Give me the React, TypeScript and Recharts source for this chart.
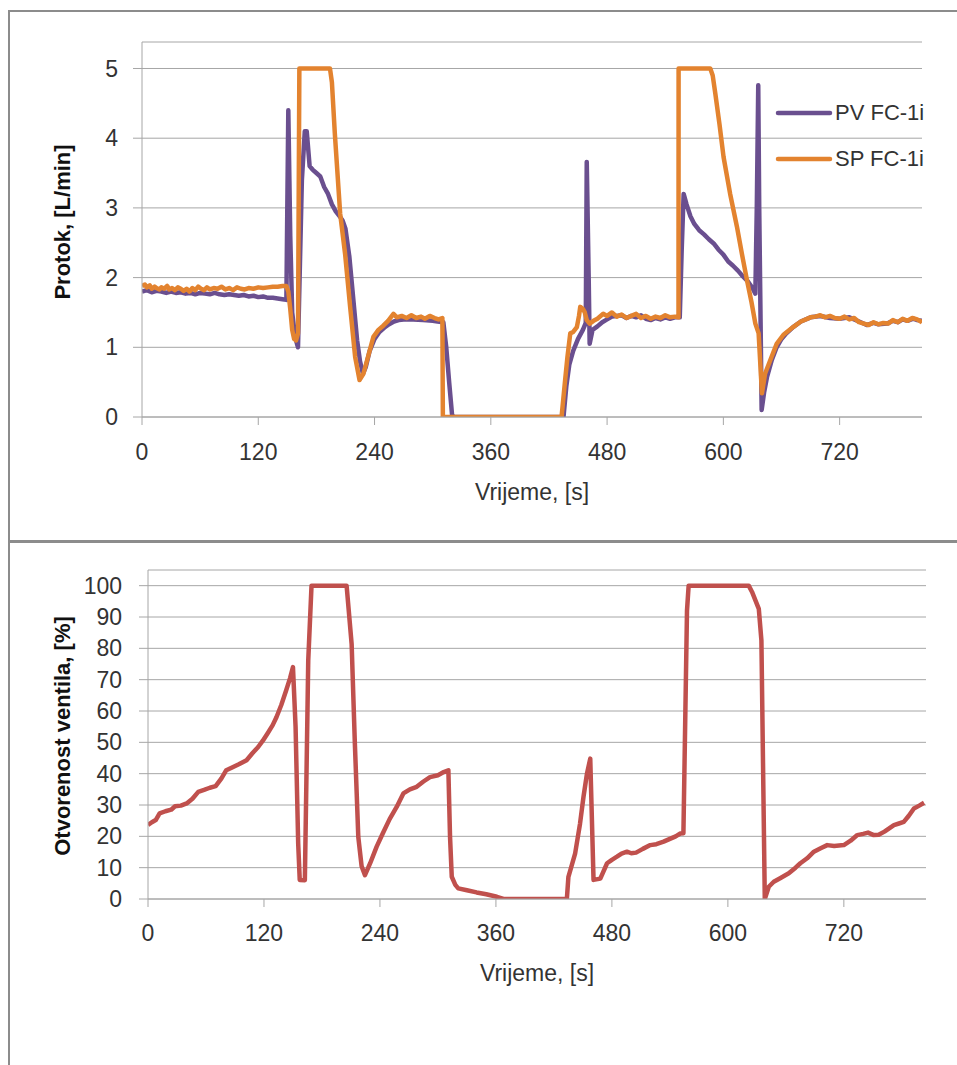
import React from 'react'
import { LineChart, Line, XAxis, YAxis, CartesianGrid, Legend, Label } from 'recharts'

// time axis ticks, seconds
const timeTicks = [0, 120, 240, 360, 480, 600, 720]
const flowTicks = [0, 1, 2, 3, 4, 5]
const valveTicks = [0, 10, 20, 30, 40, 50, 60, 70, 80, 90, 100]

// PV FC-1i (measured flow, L/min)
const pvTime = [
  0, 5, 10, 15, 20, 25, 30, 35, 40, 45,
  50, 55, 60, 65, 70, 75, 80, 85, 90, 95,
  100, 105, 110, 115, 120, 125, 130, 135, 140, 145,
  149, 151, 153, 155, 158, 161, 163, 165, 168, 170,
  173, 176, 180, 184, 188, 192, 196, 200, 204, 207,
  210, 214, 218, 222, 225, 228, 231, 235, 240, 245,
  250, 255, 260, 265, 270, 280, 290, 300, 305, 311,
  314, 317, 320, 322, 435, 438, 441, 445, 450, 455,
  458, 459, 461, 462, 465, 470, 475, 480, 485, 490,
  495, 500, 505, 510, 515, 520, 525, 530, 535, 540,
  545, 550, 555, 557, 559, 562, 566, 570, 575, 580,
  585, 590, 595, 600, 605, 610, 615, 620, 625, 630,
  633, 634.5, 636, 637, 639.5, 642, 645, 650, 655, 660,
  665, 672, 680, 690, 700, 710, 720, 730, 740, 748,
  755, 760, 769, 775, 780, 785, 790, 796, 800, 805,
]
const pvFlow = [
  1.80, 1.82, 1.79, 1.81, 1.80, 1.78, 1.80, 1.78, 1.79, 1.77,
  1.78, 1.76, 1.78, 1.77, 1.76, 1.78, 1.76, 1.75, 1.76, 1.75,
  1.74, 1.75, 1.73, 1.74, 1.72, 1.73, 1.71, 1.71, 1.70, 1.69,
  1.68, 4.40, 2.60, 1.50, 1.15, 1.00, 2.20, 3.40, 4.10, 4.10,
  3.60, 3.55, 3.50, 3.45, 3.30, 3.20, 3.05, 2.95, 2.88, 2.82,
  2.70, 2.30, 1.70, 1.10, 0.80, 0.62, 0.72, 0.95, 1.12, 1.22,
  1.28, 1.33, 1.37, 1.39, 1.40, 1.40, 1.39, 1.38, 1.37, 1.36,
  1.00, 0.50, 0.03, 0, 0, 0.45, 0.75, 0.95, 1.12, 1.25,
  1.35, 3.66, 2.00, 1.05, 1.25, 1.30, 1.36, 1.40, 1.44, 1.45,
  1.46, 1.42, 1.45, 1.43, 1.46, 1.41, 1.39, 1.42, 1.40, 1.43,
  1.41, 1.43, 1.43, 2.40, 3.20, 3.05, 2.88, 2.77, 2.68, 2.62,
  2.55, 2.49, 2.40, 2.33, 2.23, 2.17, 2.10, 2.02, 1.95, 1.85,
  1.77, 3.00, 4.76, 3.00, 0.10, 0.35, 0.57, 0.82, 1.00, 1.12,
  1.20, 1.29, 1.37, 1.43, 1.45, 1.42, 1.41, 1.43, 1.37, 1.32,
  1.35, 1.33, 1.34, 1.38, 1.36, 1.40, 1.38, 1.41, 1.39, 1.38,
]

// SP FC-1i (setpoint, L/min)
const spTime = [
  0, 3, 5, 8, 10, 13, 15, 18, 20, 23,
  26, 28, 31, 34, 37, 40, 43, 46, 49, 52,
  55, 58, 61, 64, 67, 70, 74, 78, 82, 86,
  90, 94, 98, 102, 106, 110, 115, 120, 125, 130,
  135, 140, 145, 149, 151, 153, 155, 157, 159, 161,
  162.4, 194, 196, 199, 204.5, 209.6, 214.8, 220, 224.5, 228.5,
  233, 238.8, 244, 249, 254, 259.5, 263, 268, 273, 278,
  283, 288, 292, 297, 302, 306, 310, 310.5, 433, 436.7,
  439, 442, 445, 448.8, 451, 452.3, 455, 457, 459, 462,
  466, 470, 476, 480, 485, 490, 495, 500, 505, 510,
  515, 520, 525, 530, 535, 540, 545, 550, 553.7, 553.8,
  586.5, 589, 591.7, 596, 600.2, 607, 614, 619, 624.4, 629,
  633, 636.4, 639.8, 643, 648, 655, 662, 672, 680, 690,
  695, 700, 705, 710, 715, 720, 725, 730, 735, 740,
  745, 750, 755, 760, 765, 770, 775, 780, 785, 790,
  795, 800, 805,
]
const spFlow = [
  1.88, 1.90, 1.86, 1.89, 1.84, 1.87, 1.85, 1.83, 1.86, 1.84,
  1.88, 1.83, 1.85, 1.82, 1.86, 1.84, 1.81, 1.84, 1.80, 1.85,
  1.82, 1.87, 1.84, 1.82, 1.86, 1.83, 1.85, 1.84, 1.87, 1.83,
  1.85, 1.82, 1.86, 1.84, 1.83, 1.85, 1.84, 1.86, 1.85, 1.86,
  1.87, 1.87, 1.88, 1.88, 1.80, 1.55, 1.25, 1.12, 1.10, 1.20,
  5, 5, 4.80, 4.07, 2.92, 2.34, 1.58, 0.86, 0.53, 0.62,
  0.85, 1.15, 1.25, 1.31, 1.38, 1.48, 1.43, 1.45, 1.42, 1.46,
  1.42, 1.44, 1.41, 1.45, 1.42, 1.40, 1.42, 0, 0, 0.53,
  0.85, 1.20, 1.22, 1.29, 1.45, 1.58, 1.55, 1.50, 1.39, 1.34,
  1.38, 1.41, 1.48, 1.45, 1.50, 1.44, 1.47, 1.42, 1.45, 1.48,
  1.42, 1.45, 1.41, 1.44, 1.42, 1.46, 1.43, 1.44, 1.43, 5,
  5, 4.90, 4.64, 4.20, 3.73, 3.20, 2.73, 2.35, 1.96, 1.65,
  1.34, 1.20, 0.34, 0.62, 0.80, 1.05, 1.18, 1.29, 1.37, 1.43,
  1.44, 1.46, 1.43, 1.45, 1.42, 1.41, 1.44, 1.40, 1.42, 1.36,
  1.34, 1.32, 1.36, 1.33, 1.35, 1.34, 1.39, 1.36, 1.41, 1.38,
  1.42, 1.40, 1.36,
]

// valve opening, %
const valveTime = [
  0, 4, 8, 12, 18, 24, 28, 34, 40, 46,
  52, 58, 64, 70, 76, 81, 87, 94, 102, 108,
  114, 119, 124, 129, 133, 138, 143, 147, 150, 152.7,
  155.4, 157, 162.3, 165.8, 169.2, 205.5, 210.7, 214, 217.6, 221,
  224.5, 230, 236.6, 243, 250, 257.3, 264.2, 271, 278, 285,
  291.8, 300, 306, 310.8, 312.5, 314.3, 318, 321, 330, 340,
  350, 361, 367.8, 433.4, 435, 442, 447, 450.6, 454.2, 457.6,
  461, 468, 475, 480, 485.2, 490, 495.6, 500, 505, 512,
  519.7, 526, 533.5, 540, 546, 550.8, 554, 557.7, 559.4, 621.6,
  625, 632, 634.7, 638.2, 642.3, 647.5, 655, 663, 670, 675,
  682, 689, 696, 702.8, 710, 720, 727, 733.9, 740, 745,
  751, 756, 762, 771.8, 777, 782, 787, 792.5, 798, 803,
]
const valveOpen = [
  23.6, 24.5, 25.2, 27.3, 28.0, 28.5, 29.6, 29.8, 30.5, 32.0,
  34.2, 34.8, 35.5, 36.0, 38.5, 41.1, 42.0, 43.0, 44.3, 46.5,
  48.5, 50.6, 53.0, 55.5, 58.1, 62.0, 66.6, 70.5, 74.0, 54.9,
  17.7, 6.1, 6.0, 76.1, 100, 100, 81.4, 50.0, 19.8, 10.5,
  7.6, 11.5, 16.7, 21.0, 25.5, 29.4, 33.7, 35.0, 35.8, 37.5,
  38.9, 39.5, 40.5, 41.1, 20.0, 7.1, 4.5, 3.4, 2.8, 2.1,
  1.5, 0.7, 0, 0, 7.1, 14.6, 24.0, 32.6, 40.0, 44.8,
  6.1, 6.5, 11.4, 12.5, 13.5, 14.5, 15.1, 14.6, 14.8, 16.0,
  17.2, 17.5, 18.3, 19.2, 20.0, 20.9, 21.0, 92.0, 100, 100,
  98.0, 92.6, 82.5, 0, 3.9, 5.5, 6.8, 8.2, 10.0, 11.4,
  13.0, 15.1, 16.2, 17.2, 16.9, 17.2, 18.6, 20.4, 20.8, 21.2,
  20.4, 20.5, 21.5, 23.6, 24.1, 24.6, 26.5, 28.9, 29.8, 30.7,
]

const toPoints = (ts: number[], vs: number[]) => ts.map((t, i) => ({ t, v: vs[i] }))

const pvData = toPoints(pvTime, pvFlow)
const spData = toPoints(spTime, spFlow)
const valveData = toPoints(valveTime, valveOpen)

const FONT = '"Liberation Sans", Arial, sans-serif'
const GRID = '#a6a6a6'
const TEXT = '#333333'
const tickStyle = { fill: TEXT, fontSize: 23, fontFamily: FONT }

// vertical axis title, rotated
const yTitle = (text: string, x: number, y: number) => () => (
  <text
    x={x}
    y={y}
    transform={`rotate(-90 ${x} ${y})`}
    textAnchor="middle"
    dominantBaseline="central"
    fontFamily={FONT}
    fontSize={22}
    fontWeight="bold"
    fill="#111111"
  >
    {text}
  </text>
)

const renderLegend = (props: any) => (
  <div style={{ fontFamily: FONT }}>
    {(props.payload || []).map((entry: any) => (
      <div key={entry.value} style={{ display: 'flex', alignItems: 'center', height: 46 }}>
        <svg width={58} height={10}>
          <line x1={3} y1={5} x2={55} y2={5} stroke={entry.color} strokeWidth={4.5} strokeLinecap="round" />
        </svg>
        <span style={{ fontSize: 22, color: TEXT, marginLeft: 2 }}>{entry.value}</span>
      </div>
    ))}
  </div>
)

export default function App() {
  return (
    <div
      style={{
        position: 'absolute',
        left: 0,
        top: 0,
        width: 957,
        height: 1065,
        overflow: 'hidden',
        background: '#fff',
        fontFamily: FONT,
      }}
    >
      {/* chart frames */}
      <div style={{ position: 'absolute', left: 8, top: 10, width: 1000, height: 532, border: '2px solid #8c8c8c', boxSizing: 'border-box' }} />
      <div style={{ position: 'absolute', left: 8, top: 541, width: 1000, height: 600, border: '2px solid #8c8c8c', boxSizing: 'border-box' }} />

      {/* flow chart */}
      <div style={{ position: 'absolute', left: 0, top: 0 }}>
        <LineChart width={957} height={540} margin={{ top: 42, right: 35, left: 82, bottom: 93 }}>
          <CartesianGrid vertical={false} stroke={GRID} />
          <XAxis
            type="number"
            dataKey="t"
            domain={[0, 805]}
            ticks={timeTicks}
            allowDataOverflow
            height={30}
            tickSize={8}
            tickMargin={19}
            stroke={GRID}
            tick={tickStyle}
          >
            <Label value="Vrijeme, [s]" position="bottom" offset={37} fill={TEXT} fontSize={23} fontFamily={FONT} />
          </XAxis>
          <YAxis
            type="number"
            domain={[0, 5.38]}
            ticks={flowTicks}
            allowDataOverflow
            width={60}
            tickSize={9}
            tickMargin={15}
            stroke={GRID}
            tick={tickStyle}
          >
            <Label content={yTitle('Protok, [L/min]', 62, 222)} />
          </YAxis>
          <Legend
            layout="vertical"
            align="center"
            verticalAlign="middle"
            content={renderLegend}
            wrapperStyle={{ left: 775, top: 90, width: 'auto' }}
          />
          <Line
            data={pvData}
            dataKey="v"
            name="PV FC-1i"
            type="linear"
            stroke="#6a4f8f"
            strokeWidth={4.5}
            strokeLinejoin="round"
            dot={false}
            isAnimationActive={false}
          />
          <Line
            data={spData}
            dataKey="v"
            name="SP FC-1i"
            type="linear"
            stroke="#e3832f"
            strokeWidth={4.5}
            strokeLinejoin="round"
            dot={false}
            isAnimationActive={false}
          />
        </LineChart>
      </div>

      {/* valve chart */}
      <div style={{ position: 'absolute', left: 0, top: 541 }}>
        <LineChart width={957} height={524} margin={{ top: 29, right: 31, left: 88, bottom: 136 }}>
          <CartesianGrid vertical={false} stroke={GRID} />
          <XAxis
            type="number"
            dataKey="t"
            domain={[0, 805]}
            ticks={timeTicks}
            allowDataOverflow
            height={30}
            tickSize={8}
            tickMargin={18}
            stroke={GRID}
            tick={tickStyle}
          >
            <Label value="Vrijeme, [s]" position="bottom" offset={36} fill={TEXT} fontSize={23} fontFamily={FONT} />
          </XAxis>
          <YAxis
            type="number"
            domain={[0, 105]}
            ticks={valveTicks}
            allowDataOverflow
            width={60}
            tickSize={9}
            tickMargin={17}
            stroke={GRID}
            tick={tickStyle}
          >
            <Label content={yTitle('Otvorenost ventila, [%]', 62, 195)} />
          </YAxis>
          <Line
            data={valveData}
            dataKey="v"
            name="Otvorenost ventila"
            type="linear"
            stroke="#c0504d"
            strokeWidth={4.5}
            strokeLinejoin="round"
            dot={false}
            isAnimationActive={false}
          />
        </LineChart>
      </div>
    </div>
  )
}
